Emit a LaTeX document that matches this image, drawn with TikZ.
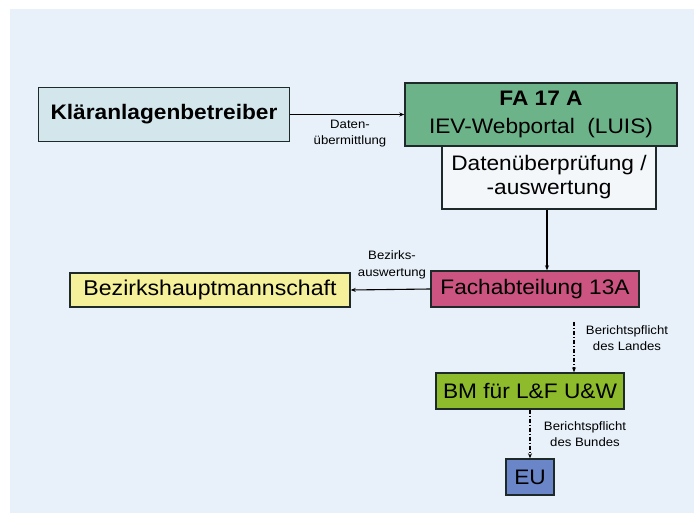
\documentclass[tikz,border=0pt]{standalone}
\usepackage{fontspec}
\setmainfont[FakeStretch=1.08]{Liberation Sans}
\usetikzlibrary{arrows.meta,calc}
\definecolor{bgc}{HTML}{E8F1FA}
\definecolor{klc}{HTML}{D3E6EC}
\definecolor{fac}{HTML}{6DB38A}
\definecolor{dac}{HTML}{F3F7FA}
\definecolor{bzc}{HTML}{F5F09A}
\definecolor{fbc}{HTML}{CC5480}
\definecolor{bmc}{HTML}{8DBB2C}
\definecolor{euc}{HTML}{6A86C8}
\definecolor{edgec}{HTML}{1E2A2A}
\begin{document}
\begin{tikzpicture}[x=1pt,y=-1pt,
  boxstyle/.style={draw=edgec,line width=1.4pt,inner sep=0pt,align=center,text=black},
  conn/.style={line width=1.1pt,-{Stealth[length=5pt,width=4pt]}},
  dconn/.style={line width=1.1pt,dash pattern=on 4pt off 2pt on 1pt off 2pt,-{Stealth[length=5pt,width=4pt]}},
  lbl/.style={font=\fontsize{12.2}{16.5}\selectfont,align=center,inner sep=0pt}]
\useasboundingbox (0,0) rectangle (694,513);
\fill[white] (0,0) rectangle (694,513);
\fill[bgc] (10,9) rectangle (694,513);
\node[boxstyle,fill=klc,minimum width=251pt,minimum height=54pt,font=\fontsize{21}{22}\selectfont\bfseries] (kl) at (164,114.5) {Kläranlagenbetreiber};
\node[boxstyle,fill=fac,minimum width=272pt,minimum height=63pt,font=\fontsize{21}{28}\selectfont] (fa) at (541,114.5) {\textbf{FA 17 A}\\IEV-Webportal\ \ (LUIS)};
\node[boxstyle,fill=dac,minimum width=214pt,minimum height=63pt,font=\fontsize{21}{24}\selectfont] (da) at (549,177.5) {Datenüberprüfung /\\-auswertung};
\node[boxstyle,fill=fbc,minimum width=208pt,minimum height=36pt,font=\fontsize{21}{24}\selectfont] (fb) at (535,289) {Fachabteilung 13A};
\node[boxstyle,fill=bzc,minimum width=280pt,minimum height=34pt,font=\fontsize{21.4}{24}\selectfont] (bz) at (210,290) {Bezirkshauptmannschaft};
\node[boxstyle,fill=bmc,minimum width=188pt,minimum height=36pt,font=\fontsize{21}{24}\selectfont] (bm) at (530,391) {BM für L\&F U\&W};
\node[boxstyle,fill=euc,minimum width=48pt,minimum height=36pt,font=\fontsize{21}{24}\selectfont] (eu) at (530,477) {EU};
% connectors
\draw[conn] (kl.east) -- (fa.west);
\node[lbl] (l1) at (350,133.5) {Daten-\\übermittlung};
\coordinate (ax) at (547,0);
\draw[conn] (da.south -| ax) -- (fb.north -| ax);
\draw[conn] (fb.west) -- (bz.east);
\node[lbl] (l2) at (392,265) {Bezirks-\\auswertung};
\coordinate (dstart) at (574,322);
\draw[dconn] (dstart) -- (bm.north -| dstart);
\node[lbl] (l3) at (627,338) {Berichtspflicht\\des Landes};
\draw[dconn] (bm.south) -- (eu.north);
\node[lbl] (l4) at (585,434) {Berichtspflicht\\des Bundes};
\end{tikzpicture}
\end{document}
